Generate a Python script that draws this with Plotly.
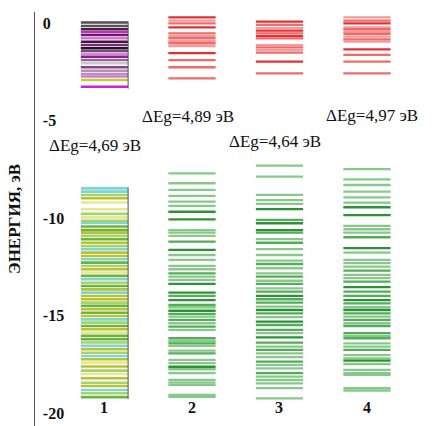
import plotly.graph_objects as go

# ---------------- data ----------------
columns = [1, 2, 3, 4]
column_labels = ["1", "2", "3", "4"]
gap_labels = ["ΔEg=4,69 эВ", "ΔEg=4,89 эВ", "ΔEg=4,64 эВ", "ΔEg=4,97 эВ"]
gap_label_x = [0.89, 1.95, 2.95, 4.06]
gap_label_y = [-6.26, -4.82, -6.10, -4.72]

y_tickvals = [0, -5, -10, -15, -20]
y_ticktext = ["0", "-5", "-10", "-15", "-20"]

# column 1 (multi-colour)
c1_top_E = [0.02, -0.15, -0.32, -0.46, -0.62, -0.78, -0.96, -1.13, -1.30, -1.44,
            -1.59, -1.73, -1.90, -2.07, -2.27, -2.45, -2.62, -2.75, -2.92, -3.27]
c1_top_c = ["#505050", "#5a545a", "#4a2040", "#c030c0", "#6a1a6a", "#e070d0", "#3a1a3a",
            "#7a2a7a", "#2a102a", "#6a506a", "#e080e0", "#902090", "#8a708a", "#d8c0d8",
            "#8a408a", "#a898a8", "#d080d0", "#c08ac0", "#c8c840", "#d020d0"]

c1_bot_E = [-8.48, -8.65, -8.82, -8.99, -9.21, -9.55, -9.79, -9.97, -10.14, -10.24,
            -10.44, -10.62, -10.75, -10.92, -11.09, -11.27, -11.44, -11.60, -11.78, -11.95,
            -12.12, -12.29, -12.46, -12.63, -12.80, -12.97, -13.14, -13.32, -13.49, -13.66,
            -13.83, -14.00, -14.17, -14.34, -14.51, -14.68, -14.86, -15.03, -15.20, -15.37,
            -15.54, -15.71, -15.88, -16.05, -16.22, -16.39, -16.56, -16.73, -16.91, -17.08,
            -17.25, -17.42, -17.62, -17.83, -18.00, -18.22, -18.45, -18.62, -18.82, -18.99,
            -19.19]
c1_bot_k = ["C", "C", "L", "Y", "P", "P", "L", "P", "L", "C",
            "G", "G", "Y", "L", "G", "Y", "L", "C", "Y", "Y",
            "C", "G", "L", "Y", "P", "G", "C", "L", "G", "Y",
            "C", "Y", "Y", "L", "G", "Y", "G", "Y", "C", "L",
            "G", "Y", "P", "G", "G", "L", "C", "Y", "L", "C",
            "Y", "P", "Y", "L", "P", "Y", "L", "Y", "C", "L",
            "G"]

# columns 2-4 conduction levels (red) and valence levels (green); shade 0 light .. 2 dark
c2_cb_E = [0.29, 0.12, -0.02, -0.22, -0.53, -0.67, -0.78, -0.91, -1.04, -1.18, -1.55, -1.90, -2.27, -2.84]
c2_cb_s = [2, 0, 1, 2, 1, 0, 1, 0, 1, 0, 2, 1, 1, 1]
c3_cb_E = [0.07, -0.10, -0.27, -0.39, -0.53, -0.67, -0.79, -1.13, -1.25, -1.38, -1.52, -1.98, -2.58]
c3_cb_s = [2, 1, 0, 2, 1, 2, 1, 0, 1, 0, 1, 2, 1]
c4_cb_E = [0.29, 0.12, -0.02, -0.22, -0.32, -0.45, -0.56, -0.70, -0.84, -0.96, -1.35, -1.64, -1.98, -2.58]
c4_cb_s = [0, 1, 2, 0, 1, 0, 1, 0, 1, 0, 2, 1, 1, 1]

c2_vb_E = [-7.71, -8.22, -8.56, -8.87, -9.16, -9.38, -9.68, -10.07, -10.62, -10.75,
           -10.92, -11.21, -11.64, -11.90, -12.15, -12.46, -12.63, -12.84, -13.01, -13.18,
           -13.38, -13.83, -14.00, -14.21, -14.46, -14.58, -14.76, -14.92, -15.06, -15.23,
           -15.40, -15.57, -15.74, -16.17, -16.31, -16.43, -16.56, -16.80, -16.94, -17.28,
           -17.45, -17.63, -17.76, -17.96, -18.31, -18.45, -18.56, -19.08, -19.17]
c2_vb_s = [0, 0, 0, 0, 0, 0, 2, 2, 0, 0,
           0, 1, 2, 0, 0, 0, 0, 1, 0, 0,
           2, 2, 1, 2, 1, 0, 2, 1, 0, 1,
           0, 1, 0, 1, 0, 1, 0, 0, 1, 0,
           0, 2, 0, 0, 0, 0, 0, 0, 0]
c3_vb_E = [-7.32, -7.88, -8.82, -9.08, -9.28, -9.55, -10.10, -10.27, -10.62, -10.75,
           -11.09, -11.27, -11.60, -11.90, -12.19, -12.36, -12.58, -12.84, -13.01, -13.22,
           -13.38, -13.61, -13.78, -14.00, -14.17, -14.34, -14.55, -14.72, -14.89, -15.09,
           -15.32, -15.49, -15.74, -15.91, -16.12, -16.39, -16.60, -16.77, -16.94, -17.14,
           -17.37, -17.54, -17.71, -17.96, -18.14, -18.31, -18.48, -18.73, -19.25]
c3_vb_s = [0, 0, 0, 0, 0, 2, 1, 2, 2, 1,
           0, 1, 0, 0, 0, 1, 0, 0, 1, 0,
           1, 0, 1, 2, 1, 1, 0, 2, 1, 0,
           2, 1, 1, 0, 2, 1, 0, 1, 0, 0,
           1, 0, 0, 1, 0, 0, 0, 0, 0]
c4_vb_E = [-7.50, -8.02, -8.31, -8.65, -8.94, -9.21, -9.45, -9.85, -10.41, -10.58,
           -10.75, -10.99, -11.55, -11.78, -12.15, -12.32, -12.50, -12.70, -12.92, -13.09,
           -13.27, -13.55, -13.78, -14.00, -14.21, -14.38, -14.58, -14.72, -14.89, -15.06,
           -15.23, -15.40, -15.54, -15.91, -16.05, -16.17, -16.43, -16.60, -16.77, -17.03,
           -17.20, -17.32, -17.49, -17.79, -17.96, -18.05, -18.73, -18.85]
c4_vb_s = [0, 0, 0, 0, 0, 0, 2, 2, 0, 0,
           0, 1, 2, 0, 0, 0, 0, 1, 0, 0,
           1, 2, 1, 1, 2, 1, 0, 2, 1, 0,
           1, 0, 1, 1, 0, 1, 0, 0, 1, 0,
           0, 2, 0, 0, 0, 0, 0, 0]

# ---------------- styles ----------------
HALF = 0.27
red_pal = ["#f59a9a", "#f06a6a", "#e62e34"]
green_pal = ["#88c98b", "#52ad59", "#2a9434"]
c1_pal = {"C": "#7ed6d4", "Y": "#b8c232", "G": "#6cb53c", "L": "#a6d468", "P": "#e6e894"}

fig = go.Figure()


def add_levels(xc, energies, colors, width):
    groups = {}
    for e, c in zip(energies, colors):
        groups.setdefault(c, []).append(e)
    for c, es in groups.items():
        xs, ys = [], []
        for e in es:
            xs += [xc - HALF, xc + HALF, None]
            ys += [e, e, None]
        fig.add_trace(go.Scatter(x=xs, y=ys, mode="lines",
                                 line=dict(color=c, width=width),
                                 hoverinfo="skip", showlegend=False))


add_levels(columns[0], c1_top_E, c1_top_c, 2.5)
add_levels(columns[0], c1_bot_E, [c1_pal[k] for k in c1_bot_k], 2.6)
# right border of column 1 blocks
for es in (c1_top_E, c1_bot_E):
    fig.add_trace(go.Scatter(x=[columns[0] + HALF, columns[0] + HALF], y=[max(es) + 0.05, min(es) - 0.1],
                             mode="lines", line=dict(color="#555555", width=1),
                             hoverinfo="skip", showlegend=False))

for xc, cbE, cbS, vbE, vbS in [(columns[1], c2_cb_E, c2_cb_s, c2_vb_E, c2_vb_s),
                               (columns[2], c3_cb_E, c3_cb_s, c3_vb_E, c3_vb_s),
                               (columns[3], c4_cb_E, c4_cb_s, c4_vb_E, c4_vb_s)]:
    add_levels(xc, cbE, [red_pal[s] for s in cbS], 2.3)
    add_levels(xc, vbE, [green_pal[s] for s in vbS], 2.3)

serif = "Liberation Serif"
for t, x, y in zip(gap_labels, gap_label_x, gap_label_y):
    fig.add_annotation(x=x, y=y, xref="x", yref="y", text=t, showarrow=False,
                       font=dict(family=serif, size=17, color="#111111"))
for t, x in zip(column_labels, columns):
    fig.add_annotation(x=x, y=-19.74, xref="x", yref="y", text="<b>" + t + "</b>", showarrow=False,
                       font=dict(family=serif, size=16, color="#111111"))

fig.add_annotation(x=-0.052, y=0.5, xref="paper", yref="paper", text="<b>ЭНЕРГИЯ, эВ</b>",
                   textangle=-90, showarrow=False, xanchor="center", yanchor="middle",
                   font=dict(family=serif, size=17, color="#111111"))

fig.update_layout(
    width=441, height=426,
    margin=dict(l=35, r=0, t=12, b=0),
    paper_bgcolor="white", plot_bgcolor="white",
    showlegend=False,
    xaxis=dict(range=[0.206, 4.846], visible=False),
    yaxis=dict(range=[-20.67, 0.564], showgrid=False, zeroline=False,
               showline=True, linecolor="#555555", linewidth=1,
               tickvals=y_tickvals, ticktext=["<b>" + t + "</b>" for t in y_ticktext], ticks="",
               ticklabelposition="inside",
               tickfont=dict(family=serif, size=16, color="#111111"),
               ticklabelstandoff=8),
)

fig.write_html("out.html", config={"displayModeBar": False, "staticPlot": True},
               post_script="document.body.style.margin='0';document.body.style.overflow='hidden';")
